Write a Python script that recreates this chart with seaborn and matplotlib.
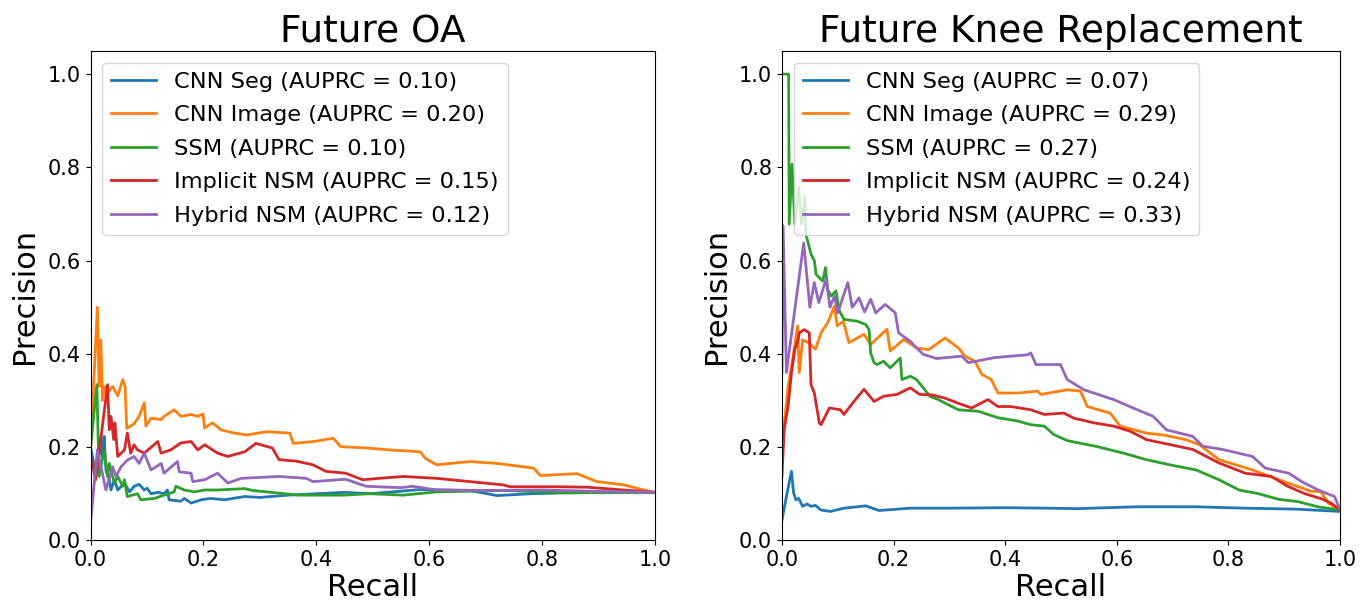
import matplotlib
matplotlib.use("Agg")
import matplotlib.pyplot as plt
import seaborn as sns
import pandas as pd

# ---------------- Future OA ----------------
oa_titles = "Future OA"
oa_labels = ["CNN Seg (AUPRC = 0.10)", "CNN Image (AUPRC = 0.20)", "SSM (AUPRC = 0.10)",
             "Implicit NSM (AUPRC = 0.15)", "Hybrid NSM (AUPRC = 0.12)"]

oa_seg_r = [0.0, 0.008, 0.015, 0.018, 0.021, 0.024, 0.027, 0.033, 0.036, 0.042, 0.048, 0.06, 0.069, 0.077,
            0.086, 0.095, 0.1, 0.107, 0.12, 0.13, 0.136, 0.139, 0.16, 0.166, 0.178, 0.196, 0.213, 0.237,
            0.273, 0.3, 0.35, 0.4, 0.45, 0.495, 0.584, 0.672, 0.72, 0.78, 0.85, 0.92, 1.0]
oa_seg_p = [0.2, 0.15, 0.18, 0.223, 0.18, 0.223, 0.151, 0.13, 0.108, 0.13, 0.108, 0.123, 0.104, 0.116,
            0.12, 0.108, 0.112, 0.1, 0.103, 0.1, 0.108, 0.087, 0.084, 0.09, 0.08, 0.087, 0.09, 0.087,
            0.094, 0.092, 0.097, 0.1, 0.103, 0.1, 0.109, 0.107, 0.096, 0.1, 0.102, 0.103, 0.103]

oa_img_r = [0.0, 0.012, 0.015, 0.018, 0.021, 0.025, 0.03, 0.039, 0.048, 0.057, 0.061, 0.064, 0.077, 0.086,
            0.095, 0.098, 0.107, 0.125, 0.13, 0.148, 0.16, 0.178, 0.19, 0.199, 0.202, 0.216, 0.231, 0.255,
            0.276, 0.312, 0.353, 0.359, 0.395, 0.43, 0.443, 0.49, 0.53, 0.584, 0.593, 0.613, 0.672, 0.72,
            0.785, 0.797, 0.862, 0.897, 0.945, 0.98, 1.0]
oa_img_p = [0.2, 0.5, 0.33, 0.43, 0.3, 0.33, 0.316, 0.33, 0.31, 0.345, 0.33, 0.24, 0.25, 0.266,
            0.295, 0.245, 0.262, 0.259, 0.266, 0.28, 0.266, 0.27, 0.266, 0.271, 0.241, 0.252, 0.237, 0.23,
            0.226, 0.233, 0.23, 0.208, 0.212, 0.219, 0.201, 0.198, 0.194, 0.19, 0.176, 0.162, 0.169, 0.165,
            0.155, 0.139, 0.143, 0.126, 0.119, 0.108, 0.103]

oa_ssm_r = [0.0, 0.011, 0.015, 0.024, 0.03, 0.033, 0.042, 0.048, 0.057, 0.06, 0.065, 0.083, 0.089, 0.113,
            0.13, 0.148, 0.151, 0.166, 0.184, 0.202, 0.225, 0.273, 0.287, 0.368, 0.45, 0.495, 0.554, 0.613,
            0.731, 0.85, 1.0]
oa_ssm_p = [0.2, 0.334, 0.137, 0.194, 0.137, 0.165, 0.123, 0.137, 0.116, 0.13, 0.094, 0.1, 0.087, 0.09,
            0.097, 0.104, 0.116, 0.108, 0.104, 0.108, 0.108, 0.111, 0.107, 0.097, 0.097, 0.1, 0.097, 0.104,
            0.107, 0.102, 0.103]

oa_imp_r = [0.0, 0.009, 0.03, 0.033, 0.036, 0.041, 0.043, 0.048, 0.06, 0.065, 0.071, 0.077, 0.083, 0.095,
            0.119, 0.125, 0.142, 0.16, 0.178, 0.19, 0.202, 0.225, 0.243, 0.273, 0.293, 0.322, 0.334, 0.364,
            0.394, 0.417, 0.452, 0.482, 0.511, 0.554, 0.613, 0.672, 0.731, 0.743, 0.82, 0.88, 0.944, 1.0]
oa_imp_p = [0.18, 0.13, 0.334, 0.237, 0.266, 0.216, 0.252, 0.18, 0.194, 0.23, 0.187, 0.205, 0.194, 0.187,
            0.212, 0.187, 0.194, 0.209, 0.212, 0.194, 0.205, 0.187, 0.18, 0.19, 0.208, 0.198, 0.173, 0.17,
            0.162, 0.148, 0.144, 0.13, 0.133, 0.137, 0.133, 0.126, 0.119, 0.115, 0.115, 0.114, 0.108, 0.103]

oa_hyb_r = [0.0, 0.012, 0.027, 0.039, 0.045, 0.054, 0.065, 0.077, 0.086, 0.095, 0.107, 0.125, 0.13, 0.154,
            0.157, 0.178, 0.181, 0.202, 0.225, 0.243, 0.267, 0.334, 0.382, 0.394, 0.452, 0.488, 0.55, 0.57,
            0.613, 0.7, 0.8, 0.9, 1.0]
oa_hyb_p = [0.04, 0.194, 0.108, 0.158, 0.137, 0.158, 0.172, 0.18, 0.165, 0.187, 0.151, 0.165, 0.144, 0.169,
            0.147, 0.144, 0.126, 0.13, 0.144, 0.123, 0.133, 0.137, 0.133, 0.126, 0.131, 0.116, 0.113, 0.116,
            0.108, 0.107, 0.108, 0.105, 0.103]

# ---------------- Future Knee Replacement ----------------
kr_title = "Future Knee Replacement"
kr_labels = ["CNN Seg (AUPRC = 0.07)", "CNN Image (AUPRC = 0.29)", "SSM (AUPRC = 0.27)",
             "Implicit NSM (AUPRC = 0.24)", "Hybrid NSM (AUPRC = 0.33)"]

kr_seg_r = [0.0, 0.008, 0.017, 0.021, 0.025, 0.03, 0.037, 0.045, 0.052, 0.06, 0.07, 0.087, 0.111, 0.15,
            0.174, 0.23, 0.292, 0.4, 0.476, 0.529, 0.635, 0.742, 0.83, 0.92, 1.0]
kr_seg_p = [0.043, 0.094, 0.148, 0.101, 0.087, 0.09, 0.073, 0.078, 0.073, 0.075, 0.065, 0.062, 0.069, 0.074,
            0.064, 0.069, 0.069, 0.07, 0.069, 0.068, 0.072, 0.072, 0.069, 0.067, 0.062]

kr_img_r = [0.0, 0.005, 0.011, 0.02, 0.028, 0.031, 0.037, 0.049, 0.06, 0.07, 0.082, 0.094, 0.099, 0.11,
            0.12, 0.147, 0.159, 0.188, 0.194, 0.218, 0.241, 0.263, 0.292, 0.316, 0.328, 0.346, 0.358,
            0.375, 0.387, 0.422, 0.458, 0.464, 0.511, 0.535, 0.547, 0.588, 0.606, 0.653, 0.683, 0.724,
            0.748, 0.783, 0.843, 0.89, 0.949, 0.965, 0.979, 1.0]
kr_img_p = [0.2, 0.259, 0.33, 0.395, 0.46, 0.36, 0.43, 0.423, 0.41, 0.445, 0.467, 0.502, 0.46, 0.47,
            0.424, 0.442, 0.42, 0.453, 0.406, 0.431, 0.413, 0.409, 0.434, 0.413, 0.395, 0.384, 0.356,
            0.345, 0.316, 0.316, 0.32, 0.313, 0.323, 0.32, 0.287, 0.273, 0.245, 0.23, 0.226, 0.216,
            0.205, 0.173, 0.151, 0.13, 0.105, 0.105, 0.08, 0.065]

kr_ssm_r = [0.0, 0.012, 0.013, 0.018, 0.023, 0.03, 0.035, 0.041, 0.043, 0.049, 0.052, 0.058, 0.061, 0.073,
            0.078, 0.082, 0.088, 0.097, 0.102, 0.111, 0.135, 0.15, 0.156, 0.159, 0.165, 0.17, 0.182, 0.194,
            0.212, 0.215, 0.23, 0.241, 0.256, 0.265, 0.28, 0.316, 0.351, 0.387, 0.422, 0.446, 0.47, 0.487,
            0.511, 0.565, 0.612, 0.653, 0.695, 0.742, 0.783, 0.819, 0.854, 0.89, 0.925, 0.96, 1.0]
kr_ssm_p = [1.0, 1.0, 0.678, 0.807, 0.678, 0.757, 0.678, 0.736, 0.656, 0.628, 0.614, 0.6, 0.571, 0.556,
            0.585, 0.538, 0.524, 0.535, 0.495, 0.474, 0.47, 0.463, 0.452, 0.402, 0.381, 0.377, 0.384, 0.37,
            0.391, 0.345, 0.352, 0.345, 0.323, 0.309, 0.302, 0.28, 0.277, 0.263, 0.256, 0.248, 0.245, 0.227,
            0.214, 0.201, 0.187, 0.173, 0.162, 0.151, 0.13, 0.108, 0.1, 0.088, 0.083, 0.072, 0.065]

kr_imp_r = [0.0, 0.004, 0.011, 0.017, 0.023, 0.029, 0.031, 0.04, 0.049, 0.052, 0.058, 0.067, 0.07, 0.085,
            0.105, 0.111, 0.129, 0.147, 0.165, 0.182, 0.206, 0.23, 0.247, 0.269, 0.292, 0.316, 0.34, 0.369,
            0.387, 0.41, 0.446, 0.47, 0.505, 0.523, 0.559, 0.594, 0.624, 0.653, 0.736, 0.783, 0.83, 0.877,
            0.906, 0.937, 0.967, 0.984, 1.0]
kr_imp_p = [0.137, 0.238, 0.288, 0.359, 0.409, 0.431, 0.445, 0.452, 0.445, 0.334, 0.316, 0.252, 0.248, 0.284,
            0.28, 0.27, 0.298, 0.324, 0.298, 0.309, 0.313, 0.327, 0.313, 0.312, 0.305, 0.294, 0.284, 0.302,
            0.287, 0.287, 0.28, 0.27, 0.273, 0.262, 0.252, 0.245, 0.234, 0.216, 0.195, 0.166, 0.144, 0.137,
            0.116, 0.1, 0.089, 0.08, 0.065]

kr_hyb_r = [0.0, 0.002, 0.008, 0.039, 0.05, 0.058, 0.066, 0.079, 0.086, 0.094, 0.1, 0.118, 0.126, 0.138,
            0.148, 0.159, 0.168, 0.185, 0.203, 0.209, 0.23, 0.241, 0.253, 0.277, 0.322, 0.334, 0.381, 0.44,
            0.446, 0.455, 0.499, 0.511, 0.541, 0.594, 0.629, 0.665, 0.689, 0.736, 0.754, 0.789, 0.843,
            0.866, 0.908, 0.931, 0.961, 0.99, 1.0]
kr_hyb_p = [0.36, 0.675, 0.36, 0.638, 0.5, 0.553, 0.51, 0.56, 0.5, 0.524, 0.488, 0.553, 0.5, 0.52,
            0.49, 0.517, 0.488, 0.506, 0.488, 0.445, 0.427, 0.413, 0.399, 0.39, 0.395, 0.381, 0.392, 0.398,
            0.402, 0.377, 0.377, 0.345, 0.323, 0.302, 0.284, 0.266, 0.237, 0.223, 0.202, 0.195, 0.18,
            0.155, 0.144, 0.126, 0.108, 0.094, 0.065]

colors = ["#1f77b4", "#ff7f0e", "#2ca02c", "#d62728", "#9467bd"]

panels = [
    (oa_titles, oa_labels, [(oa_seg_r, oa_seg_p), (oa_img_r, oa_img_p), (oa_ssm_r, oa_ssm_p),
                            (oa_imp_r, oa_imp_p), (oa_hyb_r, oa_hyb_p)]),
    (kr_title, kr_labels, [(kr_seg_r, kr_seg_p), (kr_img_r, kr_img_p), (kr_ssm_r, kr_ssm_p),
                           (kr_imp_r, kr_imp_p), (kr_hyb_r, kr_hyb_p)]),
]

fig = plt.figure(figsize=(13.63, 6.07), dpi=100)
axes = [fig.add_axes([0.0665, 0.1098, 0.4140, 0.8065]),
        fig.add_axes([0.5737, 0.1098, 0.4095, 0.8065])]

for ax, (title, labels, series) in zip(axes, panels):
    for (r, p), lab, col in zip(series, labels, colors):
        df = pd.DataFrame({"Recall": r, "Precision": p})
        sns.lineplot(data=df, x="Recall", y="Precision", ax=ax, sort=False, estimator=None,
                     color=col, linewidth=2, label=lab)
    ax.set_xlim(0.0, 1.0)
    ax.set_ylim(0.0, 1.05)
    ax.set_xticks([0.0, 0.2, 0.4, 0.6, 0.8, 1.0])
    ax.set_yticks([0.0, 0.2, 0.4, 0.6, 0.8, 1.0])
    ax.tick_params(labelsize=15)
    ax.set_xlabel("Recall", fontsize=22, labelpad=2)
    ax.set_ylabel("Precision", fontsize=22, labelpad=6)
    ax.set_title(title, fontsize=27)
    ax.legend(loc="upper left", fontsize=16.2, borderaxespad=0.52, labelspacing=0.6)

fig.savefig("out.png", dpi=100)
